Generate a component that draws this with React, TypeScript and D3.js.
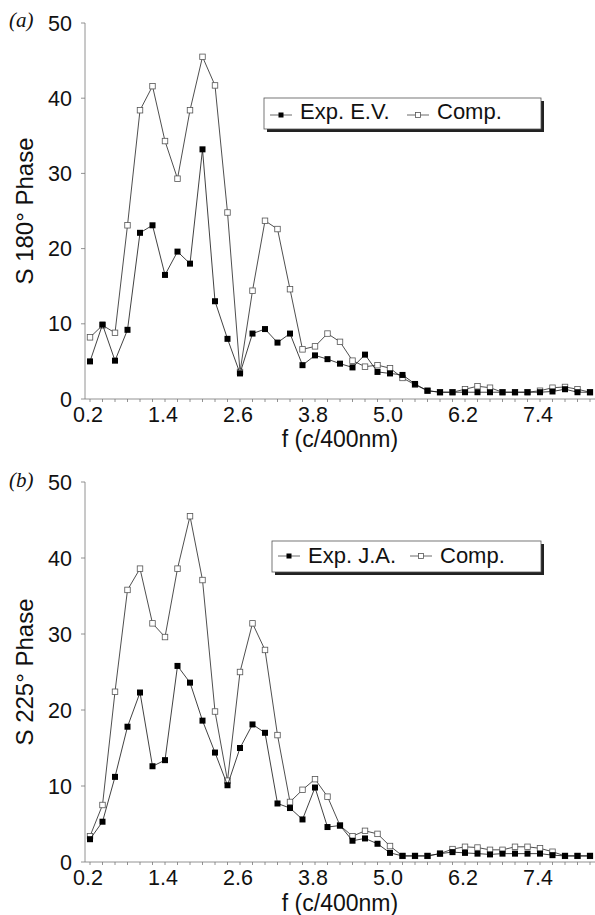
import React from "react";
import * as d3 from "d3";

const freq = [0.2, 0.4, 0.6, 0.8, 1.0, 1.2, 1.4, 1.6, 1.8, 2.0, 2.2, 2.4, 2.6, 2.8, 3.0, 3.2, 3.4, 3.6, 3.8, 4.0, 4.2, 4.4, 4.6, 4.8, 5.0, 5.2, 5.4, 5.6, 5.8, 6.0, 6.2, 6.4, 6.6, 6.8, 7.0, 7.2, 7.4, 7.6, 7.8, 8.0, 8.2];
const xTickLabels = [0.2, 1.4, 2.6, 3.8, 5.0, 6.2, 7.4];
const yTicks = [0, 10, 20, 30, 40, 50];

const exp180 = [5.0, 9.9, 5.1, 9.2, 22.1, 23.1, 16.5, 19.6, 18.0, 33.2, 13.0, 8.0, 3.4, 8.7, 9.3, 7.5, 8.7, 4.5, 5.8, 5.3, 4.7, 4.2, 5.9, 3.6, 3.4, 3.2, 2.0, 1.1, 0.9, 0.9, 0.9, 0.9, 0.9, 0.9, 0.9, 0.9, 0.9, 1.0, 1.3, 0.9, 0.9];
const comp180 = [8.2, 9.8, 8.8, 23.1, 38.4, 41.6, 34.3, 29.3, 38.4, 45.5, 41.7, 24.8, 3.6, 14.4, 23.7, 22.6, 14.6, 6.6, 7.0, 8.7, 7.6, 5.1, 4.3, 4.5, 4.1, 2.8, 1.9, 1.1, 0.9, 0.9, 1.3, 1.7, 1.5, 0.9, 0.9, 0.9, 1.1, 1.5, 1.6, 1.3, 0.9];
const exp225 = [3.0, 5.3, 11.2, 17.8, 22.3, 12.6, 13.4, 25.8, 23.6, 18.6, 14.4, 10.1, 15.0, 18.1, 17.0, 7.7, 7.1, 5.6, 9.8, 4.6, 4.8, 2.8, 3.1, 2.4, 1.2, 0.8, 0.8, 0.8, 1.1, 1.3, 1.2, 1.1, 1.0, 1.1, 1.1, 1.1, 1.1, 0.9, 0.8, 0.8, 0.8];
const comp225 = [3.4, 7.5, 22.4, 35.8, 38.6, 31.4, 29.6, 38.6, 45.5, 37.1, 19.8, 10.7, 25.0, 31.4, 27.9, 16.7, 7.9, 9.5, 10.9, 8.6, 4.8, 3.4, 4.1, 3.7, 2.1, 0.8, 0.8, 0.8, 1.1, 1.7, 2.0, 1.9, 1.6, 1.6, 2.0, 2.0, 1.8, 1.35, 0.8, 0.8, 0.8];

const SANS = "'Liberation Sans', Arial, Helvetica, sans-serif";
const SERIF = "'Liberation Serif', 'Times New Roman', serif";

type PanelProps = {
  tag: string;
  yTitle: string;
  expLabel: string;
  exp: number[];
  comp: number[];
  y0: number;
  y50: number;
  legend: { x0: number; x1: number; y0: number; y1: number; sym1: number; txt1: number; sym2: number; txt2: number; base: number; symY: number };
  xTickBase: number;
  xTitleBase: number;
  tagBase: number;
};

function Panel(p: PanelProps) {
  const x = d3.scaleLinear().domain([0.2, 8.2]).range([90, 590]);
  const y = d3.scaleLinear().domain([0, 50]).range([p.y0, p.y50]);
  const line = d3
    .line<number>()
    .x((_, i) => x(freq[i]))
    .y((d) => y(d));
  const axisX = 85;
  const ms = 6;
  const os = 5.5;
  const L = p.legend;
  return (
    <g>
      <text x={9} y={p.tagBase} fontFamily={SERIF} fontStyle="italic" fontSize={21} fill="#111">
        ({p.tag})
      </text>
      <line x1={axisX} x2={axisX} y1={y(50)} y2={y(0)} stroke="#777" strokeWidth={0.8} />
      <line x1={axisX} x2={595} y1={y(0)} y2={y(0)} stroke="#777" strokeWidth={0.8} />
      {yTicks.map((t) => (
        <g key={"yt" + t}>
          <line x1={axisX - 4} x2={axisX} y1={y(t)} y2={y(t)} stroke="#777" strokeWidth={0.8} />
          <text x={72} y={y(t) + 7.5} textAnchor="end" fontFamily={SANS} fontSize={21.5} fill="#111">
            {t}
          </text>
        </g>
      ))}
      {freq.map((f, i) => (
        <line key={"xt" + i} x1={x(f)} x2={x(f)} y1={y(0)} y2={y(0) + 3} stroke="#777" strokeWidth={0.8} />
      ))}
      {xTickLabels.map((t) => (
        <text key={"xl" + t} x={x(t) - 2} y={p.xTickBase} textAnchor="middle" fontFamily={SANS} fontSize={21.5} fill="#111">
          {t.toFixed(1)}
        </text>
      ))}
      <text x={340} y={p.xTitleBase} textAnchor="middle" fontFamily={SANS} fontSize={23} fill="#111">
        f (c/400nm)
      </text>
      <text
        transform={`translate(33,${(y(0) + y(50)) / 2}) rotate(-90)`}
        textAnchor="middle"
        fontFamily={SANS}
        fontSize={24}
        fill="#111"
      >
        {p.yTitle}
      </text>
      <path d={line(p.comp) || ""} fill="none" stroke="#222" strokeWidth={0.8} />
      {p.comp.map((v, i) => (
        <rect key={"c" + i} x={x(freq[i]) - os / 2} y={y(v) - os / 2} width={os} height={os} fill="#fff" stroke="#555" strokeWidth={0.8} />
      ))}
      <path d={line(p.exp) || ""} fill="none" stroke="#111" strokeWidth={0.8} />
      {p.exp.map((v, i) => (
        <rect key={"e" + i} x={x(freq[i]) - ms / 2} y={y(v) - ms / 2} width={ms} height={ms} fill="#000" />
      ))}
      <rect x={L.x0 + 3} y={L.y0 + 3} width={L.x1 - L.x0} height={L.y1 - L.y0} fill="#222" />
      <rect x={L.x0} y={L.y0} width={L.x1 - L.x0} height={L.y1 - L.y0} fill="#fff" stroke="#555" strokeWidth={0.8} />
      <line x1={L.sym1 - 11} x2={L.sym1 + 11} y1={L.symY} y2={L.symY} stroke="#444" strokeWidth={0.8} />
      <rect x={L.sym1 - 2.5} y={L.symY - 2.5} width={5} height={5} fill="#000" />
      <text x={L.txt1} y={L.base} fontFamily={SANS} fontSize={22} fill="#111">
        {p.expLabel}
      </text>
      <line x1={L.sym2 - 11} x2={L.sym2 + 11} y1={L.symY} y2={L.symY} stroke="#444" strokeWidth={0.8} />
      <rect x={L.sym2 - 2.5} y={L.symY - 2.5} width={5} height={5} fill="#fff" stroke="#555" strokeWidth={0.8} />
      <text x={L.txt2} y={L.base} fontFamily={SANS} fontSize={22} fill="#111">
        Comp.
      </text>
    </g>
  );
}

export default function App() {
  return (
    <svg
      width={595}
      height={915}
      viewBox="0 0 595 915"
      style={{ position: "absolute", left: 0, top: 0, background: "#fff" }}
    >
      <rect x={0} y={0} width={595} height={915} fill="#fff" />
      <Panel
        tag="a"
        yTitle="S 180° Phase"
        expLabel="Exp. E.V."
        exp={exp180}
        comp={comp180}
        y0={399}
        y50={23}
        legend={{ x0: 264, x1: 541, y0: 98, y1: 129, sym1: 281, txt1: 300, sym2: 418, txt2: 437, base: 119, symY: 115 }}
        xTickBase={422}
        xTitleBase={447}
        tagBase={27}
      />
      <Panel
        tag="b"
        yTitle="S 225° Phase"
        expLabel="Exp. J.A."
        exp={exp225}
        comp={comp225}
        y0={862}
        y50={482}
        legend={{ x0: 272, x1: 541, y0: 541, y1: 572, sym1: 289, txt1: 308, sym2: 421, txt2: 440, base: 563, symY: 556 }}
        xTickBase={885}
        xTitleBase={911}
        tagBase={487}
      />
    </svg>
  );
}
